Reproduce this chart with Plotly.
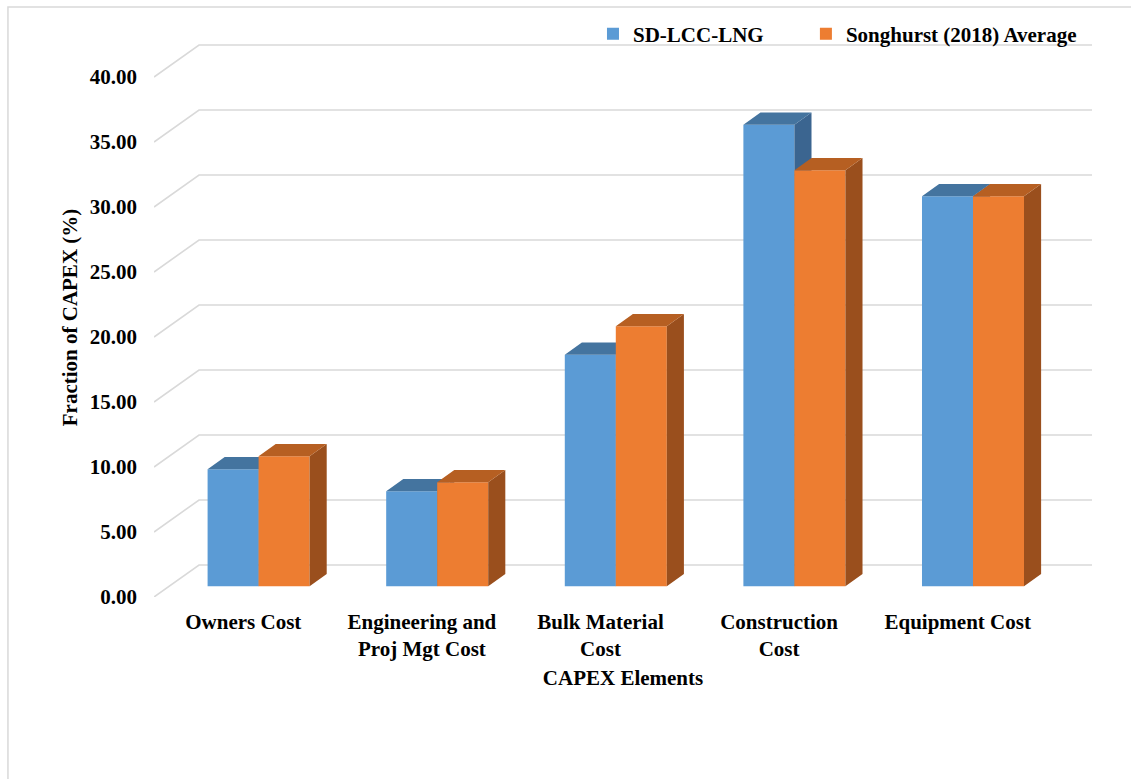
import plotly.graph_objects as go

# ---- data -------------------------------------------------------------
categories = ["Owners Cost", "Engineering and<br>Proj Mgt Cost", "Bulk Material<br>Cost",
              "Construction<br>Cost", "Equipment Cost"]
series_names = ["SD-LCC-LNG", "Songhurst (2018) Average"]
sd_lcc_lng = [9.0, 7.3, 17.8, 35.5, 30.0]
songhurst_avg = [10.0, 8.0, 20.0, 32.0, 30.0]
y_ticks = [0, 5, 10, 15, 20, 25, 30, 35, 40]

# ---- styling / 3-D projection parameters -----------------------------
FONT = "Liberation Serif"
GRID = "#D9D9D9"
FRONT = ["#5B9BD5", "#ED7D31"]
TOP = ["#44749F", "#B65F22"]
SIDE = ["#3B6590", "#9A4F1D"]

X_RANGE = [-0.5, 4.752]
Y_RANGE = [0, 43]
DX, DY = 0.252, 2.46        # oblique offset of the back wall (data units)
F_FRONT, F_BACK = 0.34, 0.72  # depth fractions of the bar front/back faces
BAR_W = 0.2856

fig = go.Figure()

# back wall gridlines with the left-side floor diagonals
gx, gy = [], []
for v in y_ticks:
    gx += [X_RANGE[0], X_RANGE[0] + DX, X_RANGE[1], None]
    gy += [v, v + DY, v + DY, None]
fig.add_trace(go.Scatter(x=gx, y=gy, mode="lines", line=dict(color=GRID, width=1.6),
                         hoverinfo="skip", showlegend=False, xaxis="x", yaxis="y"))


def add_series(values, k, xa, ya, legend_id):
    base = F_FRONT * DY
    shift = F_FRONT * DX
    bdx, bdy = (F_BACK - F_FRONT) * DX, (F_BACK - F_FRONT) * DY
    centers = [i + shift + (k - 0.5) * BAR_W for i in range(len(values))]
    top_x, top_y, side_x, side_y = [], [], [], []
    for c, v in zip(centers, values):
        x0, x1 = c - BAR_W / 2, c + BAR_W / 2
        yb, yt = base, base + v
        top_x += [x0, x1, x1 + bdx, x0 + bdx, x0, None]
        top_y += [yt, yt, yt + bdy, yt + bdy, yt, None]
        side_x += [x1, x1 + bdx, x1 + bdx, x1, x1, None]
        side_y += [yb, yb + bdy, yt + bdy, yt, yb, None]
    fig.add_trace(go.Bar(x=centers, y=values, base=[base] * len(values), width=BAR_W,
                         marker=dict(color=FRONT[k], line=dict(width=0)),
                         name=series_names[k], xaxis=xa, yaxis=ya, hoverinfo="skip",
                         legend=legend_id))
    for px, py, col in ((side_x, side_y, SIDE[k]), (top_x, top_y, TOP[k])):
        fig.add_trace(go.Scatter(x=px, y=py, mode="lines", fill="toself", fillcolor=col,
                                 line=dict(width=0, color=col), hoverinfo="skip",
                                 showlegend=False, xaxis=xa, yaxis=ya))


add_series(sd_lcc_lng, 0, "x2", "y2", "legend")
add_series(songhurst_avg, 1, "x3", "y3", "legend2")

tick_font = dict(family=FONT, size=21, color="#000000", weight="bold")

hidden = dict(range=X_RANGE, visible=False, fixedrange=True)
hidden_y = dict(range=Y_RANGE, visible=False, fixedrange=True)
legend_common = dict(orientation="h", y=1.007, xanchor="left", yanchor="middle",
                     font=tick_font, bgcolor="rgba(0,0,0,0)")

fig.update_layout(
    width=1131, height=779,
    margin=dict(l=154, r=39, t=38, b=182),
    paper_bgcolor="white", plot_bgcolor="white",
    barmode="overlay",
    xaxis=dict(range=X_RANGE, tickvals=list(range(len(categories))), ticktext=categories,
               showgrid=False, zeroline=False, showline=False, ticks="",
               tickfont=tick_font, ticklabelstandoff=10,
               title=dict(text="CAPEX Elements", font=tick_font, standoff=10)),
    yaxis=dict(range=Y_RANGE, tickvals=y_ticks, tickformat=".2f",
               showgrid=False, zeroline=False, showline=False, ticks="",
               tickfont=tick_font, ticklabelstandoff=16,
               title=dict(text="Fraction of CAPEX (%)", font=tick_font, standoff=6)),
    xaxis2=dict(overlaying="x", **hidden),
    yaxis2=dict(overlaying="y", **hidden_y),
    xaxis3=dict(overlaying="x", **hidden),
    yaxis3=dict(overlaying="y", **hidden_y),
    legend=dict(x=0.468, **legend_common),
    legend2=dict(x=0.695, **legend_common),
    shapes=[dict(type="rect", xref="paper", yref="paper",
                 x0=-0.1557, x1=1.05, y0=-0.34, y1=1.0555,
                 line=dict(color=GRID, width=1.5), layer="below")],
)

fig.write_html("out.html")
